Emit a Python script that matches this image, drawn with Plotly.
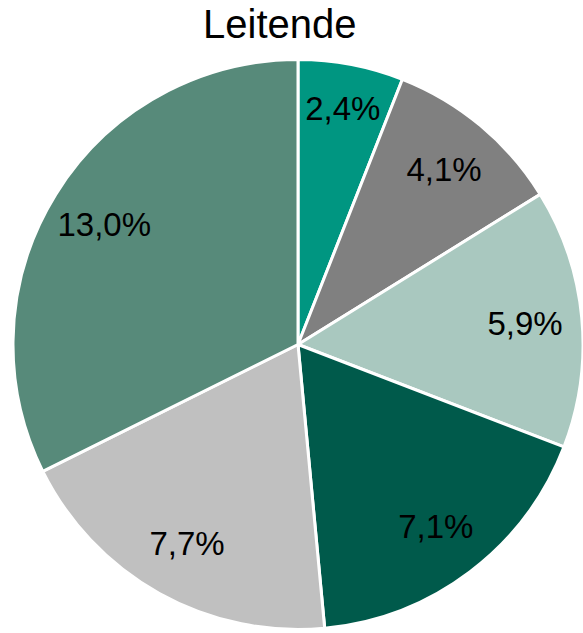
import plotly.graph_objects as go

categories = ["A", "B", "C", "D", "E", "F"]
values = [2.4, 4.1, 5.9, 7.1, 7.7, 13.0]
text_labels = ["2,4%", "4,1%", "5,9%", "7,1%", "7,7%", "13,0%"]
colors = ["#009681", "#808080", "#a9c8bf", "#005a4b", "#c0c0c0", "#578a7a"]

common = dict(labels=categories, values=values, sort=False, direction="clockwise",
              rotation=0, showlegend=False, hoverinfo="none")

fig = go.Figure()
fig.add_trace(go.Pie(
    **common,
    textinfo="none",
    marker=dict(colors=colors, line=dict(color="white", width=3)),
))
# transparent ring overlay to place labels further out (about 0.8 of the radius)
fig.add_trace(go.Pie(
    **common,
    hole=0.6,
    text=text_labels,
    textinfo="text",
    textposition="inside",
    insidetextorientation="horizontal",
    marker=dict(colors=["rgba(0,0,0,0)"] * len(values), line=dict(width=0)),
    textfont=dict(family="Liberation Sans, Arial", size=33, color="black"),
))

fig.update_layout(
    width=583, height=633,
    margin=dict(l=13, r=0, t=58, b=2),
    paper_bgcolor="white",
    title=dict(text="Leitende", x=0.48, xanchor="center", y=0.962, yanchor="middle",
               font=dict(family="Liberation Sans, Arial", size=40, color="black")),
    uniformtext=dict(mode="show", minsize=33),
)

fig.write_html("out.html")
